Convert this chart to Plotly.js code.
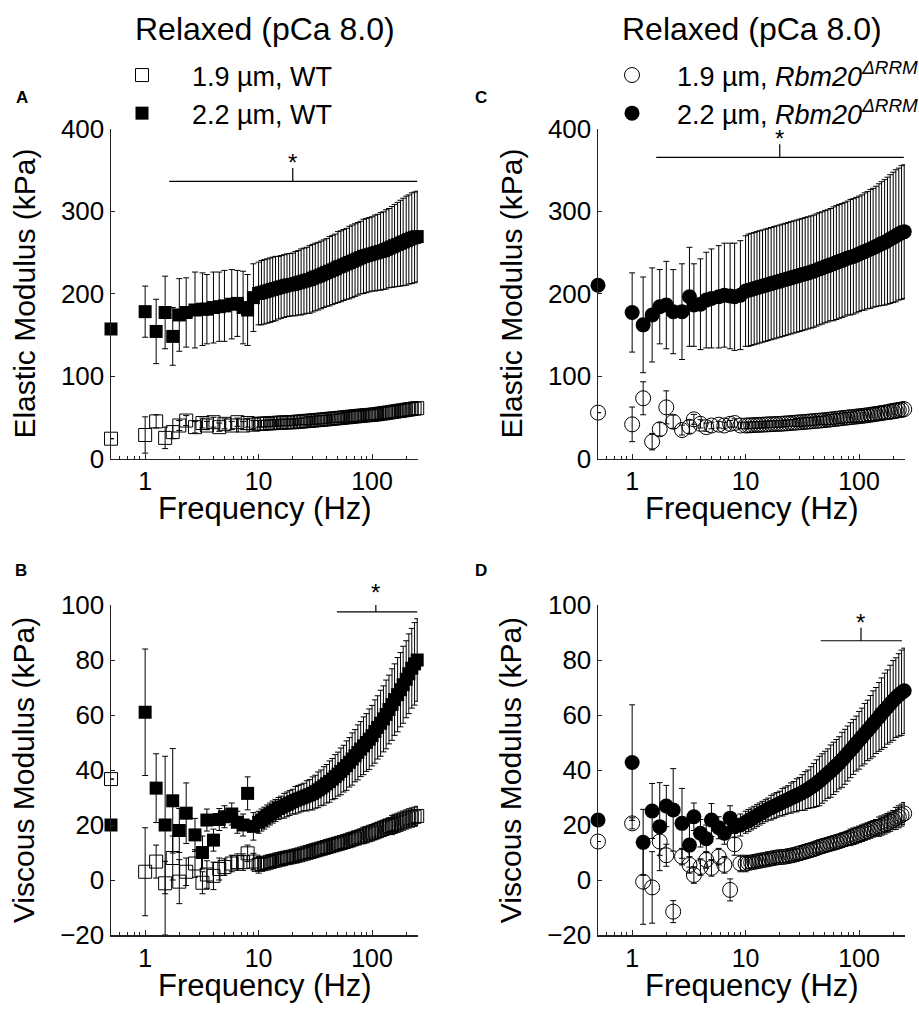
<!DOCTYPE html>
<html>
<head>
<meta charset="utf-8">
<script src="https://cdn.plot.ly/plotly-3.0.1.min.js"></script>
<style>html,body{margin:0;padding:0;background:#fff;overflow:hidden;}#chart{width:919px;height:1012px;}</style>
</head>
<body>
<div id="chart"></div>
<script>
// ---------- DATA ----------
const freq = [0.5, 1, 1.25, 1.5, 1.75, 2, 2.3, 2.75, 3.2, 3.5, 4, 4.5, 5, 5.8, 6.5, 7.3, 8, 9, 10,
  10.6, 11.2, 11.9, 12.6, 13.3, 14.1, 15, 15.8, 16.8, 17.8, 18.8, 20,
  21.1, 22.4, 23.7, 25.1, 26.6, 28.2, 29.9, 31.6, 33.5, 35.5, 37.6, 39.8,
  42.2, 44.7, 47.3, 50.1, 53.1, 56.2, 59.6, 63.1, 66.8, 70.8, 75, 79.4,
  84.1, 89.1, 94.4, 100, 106, 112, 119, 126, 133, 141, 150, 158, 168, 178, 188, 200, 211, 224, 237, 250];

// Panel A: elastic modulus, WT
const wt22_E = [157, 178, 154, 177, 148, 174, 177, 180, 181, 181, 183, 184, 185, 187, 188, 183, 180, 195, 200,
  201, 202, 203, 204, 205, 206, 207, 208, 209, 210, 210.5, 211,
  212, 213, 214, 215, 216, 217, 218.5, 220, 221, 222.5, 224, 225.5,
  227, 228.5, 230, 232, 233, 234.5, 236, 237.5, 239, 240.5, 242, 243.5,
  245, 246, 247, 248, 249, 250, 251, 252, 253.5, 255, 256.5, 258, 259.5, 261, 262.5, 264, 265.5, 267, 268, 269];
const wt22_E_sd = [0, 31, 39, 44, 35, 44, 42, 46, 44, 42, 43, 42, 43, 42, 40, 44, 43, 41, 38,
  39, 39, 39, 39, 39, 39, 38, 38, 38, 38, 38, 38,
  39, 39, 40, 40, 40, 41, 41, 41, 41, 41, 41, 41,
  42, 42, 42, 43, 43, 43, 43, 44, 44, 44, 44, 44,
  45, 45, 45, 45, 46, 46, 47, 47, 48, 48, 49, 50, 51, 52, 53, 54, 54, 55, 55, 55];
const wt19_E = [24, 28.5, 45, 25, 32, 40, 46, 38, 43, 40, 44, 38, 42, 40, 44, 40, 43, 41, 42,
  42.1, 42.3, 42.5, 42.7, 42.9, 43.1, 43.3, 43.5, 43.7, 43.8, 43.9, 44,
  44.3, 44.6, 44.9, 45.2, 45.5, 45.8, 46.1, 46.4, 46.7, 47, 47.3, 47.6,
  48, 48.3, 48.6, 49, 49.3, 49.7, 50, 50.4, 50.7, 51.1, 51.4, 51.8,
  52.1, 52.4, 52.7, 53, 53.4, 53.8, 54.3, 54.8, 55.3, 55.8, 56.4, 56.9, 57.4, 57.9, 58.4, 59, 59.5, 60, 60.5, 61];
const wt19_E_sd = [0, 22, 8, 13, 8, 6, 6, 7, 6, 5, 6, 5, 6, 5, 5, 5, 5, 5, 4,
  4, 4, 4, 4, 4, 4, 4, 4, 4, 4, 4, 4,
  4, 4, 4, 4, 5, 5, 5, 5, 5, 5, 5, 5,
  5, 5, 5, 5, 5, 6, 6, 6, 6, 6, 6, 6,
  6, 6, 6, 6, 6, 6, 7, 7, 7, 7, 7, 7, 7, 7, 8, 8, 8, 8, 8, 8];

// Panel C: elastic modulus, Rbm20 dRRM
const rbm22_E = [210, 177, 162, 174, 184, 186, 178, 178, 196, 186, 187, 192, 194, 196, 198, 197, 196, 198, 203,
  204, 205, 206, 207, 208, 209, 210, 211, 212, 213, 214, 215,
  216, 217, 218, 219, 220, 221, 222, 223, 224, 225, 226, 227,
  228.5, 230, 231, 232.5, 233.5, 235, 236, 237.5, 239, 240, 241.5, 243,
  244, 245, 246.5, 248, 249.5, 251, 252.5, 254, 255.5, 257, 259, 260.5, 262, 264, 266, 268, 270, 272, 274, 275];
const rbm22_E_sd = [0, 48, 58, 57, 45, 53, 51, 58, 60, 50, 55, 58, 60, 62, 63, 64, 65, 66, 67,
  68, 68, 68, 68, 68, 68, 68, 68, 68, 68, 68, 68,
  68, 68, 68, 68, 68, 68, 68, 68, 68, 68, 68, 68,
  68, 68, 68, 68, 68, 68, 69, 69, 69, 69, 69, 69,
  70, 70, 70, 70, 70, 71, 71, 72, 72, 73, 74, 75, 76, 77, 78, 79, 80, 80, 81, 81];
const rbm19_E = [55.6, 41.4, 73, 20.4, 35.4, 62, 44.6, 34.5, 38.5, 47.5, 42, 38, 40, 41, 40, 42, 43, 40, 40,
  40.1, 40.3, 40.5, 40.7, 40.8, 41, 41.2, 41.4, 41.6, 41.7, 41.9, 42,
  42.2, 42.5, 42.7, 43, 43.3, 43.6, 43.9, 44.1, 44.4, 44.7, 45, 45.3,
  45.6, 45.9, 46.2, 46.5, 46.9, 47.3, 47.7, 48.1, 48.5, 48.9, 49.3, 49.7,
  50.1, 50.5, 50.8, 51.2, 51.6, 52, 52.5, 53, 53.5, 54, 54.6, 55.1, 55.7, 56.2, 56.8, 57.4, 58, 58.6, 59.2, 59.8];
const rbm19_E_sd = [0, 21, 20, 10, 8, 20, 8, 6, 8, 6, 5, 5, 4, 4, 4, 4, 5, 4, 4,
  4, 4, 4, 4, 4, 4, 4, 4, 4, 4, 4, 4,
  4, 4, 4, 4, 4, 5, 5, 5, 5, 5, 5, 5,
  5, 5, 5, 6, 6, 6, 6, 6, 6, 6, 6, 6,
  6, 6, 7, 7, 7, 7, 7, 7, 8, 8, 8, 8, 8, 8, 9, 9, 9, 9, 9, 9];

// Panel B: viscous modulus, WT
const wt22_V = [20, 61, 33.4, 20, 28.8, 18, 24.3, 16.4, 10, 21.8, 14.5, 22, 23, 24, 21, 20, 31.5, 19.5, 21,
  21.8, 22.5, 23.3, 24, 24.7, 25.3, 26, 26.5, 27, 27.5, 28, 28.5,
  29, 29.4, 29.8, 30.2, 30.6, 31, 31.5, 32.1, 32.8, 33.5, 34.2, 35,
  35.8, 36.7, 37.6, 38.5, 39.5, 40.5, 41.6, 42.8, 44, 45.2, 46.4, 47.6,
  48.8, 50, 51.2, 52.5, 54, 55.5, 57, 58.6, 60.2, 62, 63.8, 65.6, 67.4, 69.2, 71, 73, 75, 77, 78.6, 80];
const wt22_V_sd = [0, 23, 12.5, 25, 19, 8, 11, 6, 6, 4, 4, 4, 4, 4, 4, 4, 6, 5, 4,
  4, 4, 4, 4, 4, 4, 4, 4, 4.5, 4.5, 4.5, 4.5,
  5, 5, 5, 5, 5.5, 5.5, 6, 6, 6.5, 6.5, 7, 7,
  7.5, 7.5, 8, 8, 8.5, 8.5, 9, 9, 9.5, 9.5, 10, 10,
  10.5, 10.5, 11, 11, 11.5, 11.5, 12, 12, 12.5, 12.5, 13, 13, 13.5, 13.5, 14, 14, 14.5, 14.5, 15, 15];
const wt19_V = [36.7, 3, 6.7, -1.2, 8, -0.6, 3, 6, -1, 2, 1.5, 4, 4.7, 6, 6.5, 6.5, 9.7, 6.7, 5.5,
  5.8, 6, 6.3, 6.6, 6.9, 7.1, 7.4, 7.6, 7.9, 8.1, 8.3, 8.5,
  8.8, 9, 9.3, 9.6, 9.9, 10.2, 10.5, 10.8, 11.1, 11.4, 11.7, 12,
  12.3, 12.6, 12.9, 13.2, 13.5, 13.8, 14.1, 14.4, 14.8, 15.1, 15.5, 15.8,
  16.2, 16.5, 16.9, 17.2, 17.6, 18, 18.4, 18.8, 19.2, 19.6, 20, 20.4, 20.8, 21.2, 21.6, 22, 22.4, 22.7, 23, 23.3];
const wt19_V_sd = [0, 16, 6, 8, 8, 8, 5, 5, 4, 5, 5, 4, 3, 3, 3, 3, 3, 3, 3,
  2, 2, 2, 2, 2, 2, 2, 2, 2, 2, 2, 2,
  2, 2, 2, 2, 2, 2, 2.5, 2.5, 2.5, 2.5, 2.5, 2.5,
  2.5, 2.5, 2.5, 2.5, 2.5, 2.5, 2.5, 2.5, 2.5, 2.5, 2.5, 2.5,
  3, 3, 3, 3, 3, 3, 3, 3, 3, 3, 3.5, 3.5, 3.5, 3.5, 3.5, 3.5, 3.5, 3.5, 3.5, 3.5];
const wt19_V_sdMinus = [0, 16, 6, 18.8, 8, 8, 5, 5, 4, 5, 5, 4, 3, 3, 3, 3, 3, 3, 3,
  2, 2, 2, 2, 2, 2, 2, 2, 2, 2, 2, 2,
  2, 2, 2, 2, 2, 2, 2.5, 2.5, 2.5, 2.5, 2.5, 2.5,
  2.5, 2.5, 2.5, 2.5, 2.5, 2.5, 2.5, 2.5, 2.5, 2.5, 2.5, 2.5,
  3, 3, 3, 3, 3, 3, 3, 3, 3, 3, 3.5, 3.5, 3.5, 3.5, 3.5, 3.5, 3.5, 3.5, 3.5, 3.5];

// Panel D: viscous modulus, Rbm20 dRRM
const rbm22_V = [21.8, 42.7, 13.7, 25.1, 19.4, 26.9, 25.5, 20.6, 12.7, 23, 17, 15, 21.8, 19, 17, 22.5, 19.4, 20, 21,
  21.6, 22.2, 22.8, 23.4, 24, 24.6, 25.2, 25.8, 26.3, 26.8, 27.3, 27.8,
  28.3, 28.8, 29.3, 29.8, 30.3, 30.8, 31.3, 31.8, 32.4, 33, 33.7, 34.4,
  35.2, 36, 36.9, 37.8, 38.7, 39.6, 40.6, 41.6, 42.6, 43.7, 44.8, 46,
  47.2, 48.4, 49.6, 50.8, 52, 53.2, 54.4, 55.6, 56.8, 58, 59.3, 60.5, 61.7, 62.9, 64.1, 65.3, 66.3, 67.3, 68.1, 68.8];
const rbm22_V_sd = [0, 21, 12, 10, 16, 7.5, 15, 12.7, 8, 5, 5, 5, 6, 4, 4, 4.5, 4, 4, 4,
  4, 4, 4, 4, 4, 4, 4, 4, 4.5, 4.5, 4.5, 4.5,
  5, 5, 5, 5.5, 5.5, 6, 6, 6.5, 7, 7, 7.5, 8,
  8.5, 9, 9, 9, 9, 9.5, 9.5, 9.5, 9.5, 10, 10, 10,
  10, 10, 10, 10.5, 10.5, 11, 11, 11.5, 12, 12, 12.5, 13, 13.5, 13.5, 14, 14.5, 14.5, 15, 15.5, 15.5];
const rbm19_V = [14, 20.6, -0.6, -2.7, 14, 9, -11.5, 8.5, 5.5, 1.8, 4.7, 7.3, 4.4, 8.5, 5.5, -3.6, 13, 6, 6,
  6.2, 6.4, 6.6, 6.8, 7, 7.2, 7.4, 7.6, 7.8, 8, 8.2, 8.3,
  8.4, 8.5, 8.7, 8.9, 9.1, 9.4, 9.7, 10, 10.3, 10.6, 10.9, 11.2,
  11.6, 12, 12.3, 12.6, 12.9, 13.2, 13.5, 13.8, 14.1, 14.5, 14.8, 15.2,
  15.5, 15.9, 16.2, 16.6, 17, 17.4, 17.8, 18.2, 18.6, 19, 19.4, 19.8, 20.2, 20.7, 21.2, 21.8, 22.4, 23, 23.6, 24.2];
const rbm19_V_sd = [0, 2, 15.5, 13, 5, 4, 4, 3, 3, 3, 3, 3, 3, 3, 3, 4, 4, 3, 3,
  2, 2, 2, 2, 2, 2, 2, 2, 2, 2, 2, 2,
  2, 2, 2, 2, 2, 2, 2.5, 2.5, 2.5, 2.5, 2.5, 2.5,
  2.5, 2.5, 2.5, 2.5, 2.5, 2.5, 2.5, 2.5, 2.5, 2.5, 2.5, 2.5,
  3, 3, 3, 3, 3, 3, 3, 3, 3, 3, 3.5, 3.5, 3.5, 3.5, 3.5, 3.5, 4, 4, 4, 4];

// Significance bars (A, C, B, D): start / end / centre frequency, level, tick height
const sigFrom  = [1.63, 1.63, 49, 46];
const sigTo    = [250, 248, 250, 239];
const sigMid   = [20, 20, 108, 104];
const sigLevel = [336, 365, 97.5, 87];
const sigTick  = [16, 16, 5, 4.7];

const legendLabels = ['1.9 µm, WT', '2.2 µm, WT',
  '1.9 µm, <i>Rbm20</i><sup><i>ΔRRM</i></sup>', '2.2 µm, <i>Rbm20</i><sup><i>ΔRRM</i></sup>'];
const yTicksE = [0, 100, 200, 300, 400];
const yTicksV = [-20, 0, 20, 40, 60, 80, 100];
const xTicks = [1, 10, 100];
const xMinor = [0.6, 0.7, 0.8, 0.9, 2, 3, 4, 5, 6, 7, 8, 9, 20, 30, 40, 50, 60, 70, 80, 90, 200];

// ---------- STYLE ----------
const FONT = 'Liberation Sans, Arial, sans-serif';
const W = 919, H = 1012;
const px = v => v / W;
const py = v => 1 - v / H;

function errObj(arr, minus) {
  const e = {type: 'data', array: arr, color: '#000', thickness: 1, width: 3, visible: true};
  if (minus) { e.symmetric = false; e.arrayminus = minus; }
  return e;
}
function trace(y, err, errMinus, xa, ya, symbol, size, name, legend, show, rank) {
  const open = symbol.indexOf('open') >= 0;
  return {
    type: 'scatter', mode: 'markers', x: freq, y: y, xaxis: xa, yaxis: ya,
    name: name, legend: legend, showlegend: show, legendrank: rank,
    cliponaxis: false,
    marker: {symbol: symbol, size: size, color: '#000',
      line: {color: '#000', width: open ? 1 : 0}},
    error_y: errObj(err, errMinus)
  };
}

const data = [
  trace(wt22_E, wt22_E_sd, null, 'x', 'y', 'square', 13, legendLabels[1], 'legend', true, 2),
  trace(wt19_E, wt19_E_sd, null, 'x', 'y', 'square-open', 13, legendLabels[0], 'legend', true, 1),
  trace(rbm22_E, rbm22_E_sd, null, 'x2', 'y2', 'circle', 15, legendLabels[3], 'legend2', true, 2),
  trace(rbm19_E, rbm19_E_sd, null, 'x2', 'y2', 'circle-open', 15, legendLabels[2], 'legend2', true, 1),
  trace(wt22_V, wt22_V_sd, null, 'x3', 'y3', 'square', 13, legendLabels[1], 'legend', false, 2),
  trace(wt19_V, wt19_V_sd, wt19_V_sdMinus, 'x3', 'y3', 'square-open', 13, legendLabels[0], 'legend', false, 1),
  trace(rbm22_V, rbm22_V_sd, null, 'x4', 'y4', 'circle', 15, legendLabels[3], 'legend2', false, 2),
  trace(rbm19_V, rbm19_V_sd, null, 'x4', 'y4', 'circle-open', 15, legendLabels[2], 'legend2', false, 1)
];

const xDomL = [px(111), px(418)];
const xDomR = [px(598), px(905)];
const yTopPx = [128.5, 458.5];
const yBotPx = [605, 935];
const yDomT = [py(yTopPx[1]), py(yTopPx[0])];
const yDomB = [py(yBotPx[1]), py(yBotPx[0])];

function xAxis(domain, anchor) {
  return {
    domain: domain, anchor: anchor, type: 'log',
    range: [Math.log10(0.5), 2.405],
    showline: true, linecolor: '#222', linewidth: 1.5,
    showgrid: false, zeroline: false, automargin: false,
    ticks: 'inside', ticklen: 5, tickwidth: 1, tickcolor: '#222',
    tickmode: 'array', tickvals: xTicks,
    tickfont: {family: FONT, size: 25, color: '#000'},
    minor: {tickmode: 'array', tickvals: xMinor, ticks: 'inside', ticklen: 3, tickwidth: 1, tickcolor: '#222', showgrid: false}
  };
}
function yAxis(domain, anchor, range, ticks, title) {
  return {
    domain: domain, anchor: anchor, range: range,
    showline: true, linecolor: '#222', linewidth: 1.5,
    showgrid: false, zeroline: false, automargin: false,
    ticks: 'inside', ticklen: 4, tickwidth: 1, tickcolor: '#222',
    tickmode: 'array', tickvals: ticks,
    tickfont: {family: FONT, size: 26, color: '#000'},
    title: {text: title, font: {family: FONT, size: 30, color: '#000'}, standoff: 16}
  };
}

const axisPairs = [['x', 'y'], ['x2', 'y2'], ['x3', 'y3'], ['x4', 'y4']];
const yRanges = [[0, 400], [0, 400], [-20, 100], [-20, 100]];
const yPix = [yTopPx, yTopPx, yBotPx, yBotPx];
const shapes = [];
const annotations = [];
for (let i = 0; i < 4; i++) {
  const [xa, ya] = axisPairs[i];
  const lm = {color: '#000', width: 1.2};
  // shapes on log axes take data values directly in Plotly v3
  shapes.push({type: 'line', xref: xa, yref: ya,
    x0: sigFrom[i], x1: sigTo[i], y0: sigLevel[i], y1: sigLevel[i], line: lm});
  shapes.push({type: 'line', xref: xa, yref: ya,
    x0: sigMid[i], x1: sigMid[i], y0: sigLevel[i], y1: sigLevel[i] + sigTick[i], line: lm});
  const pxPerUnit = (yPix[i][1] - yPix[i][0]) / (yRanges[i][1] - yRanges[i][0]);
  annotations.push({xref: xa, yref: ya, x: Math.log10(sigMid[i]), y: sigLevel[i],
    text: '*', showarrow: false, xanchor: 'center', yanchor: 'bottom',
    yshift: sigTick[i] * pxPerUnit - 10,
    font: {family: FONT, size: 24, color: '#000'}});
  // x-axis title, placed under the tick labels
  annotations.push({xref: xa + ' domain', yref: ya + ' domain', x: 0.5, y: 0,
    text: 'Frequency (Hz)', showarrow: false, xanchor: 'center', yanchor: 'middle', yshift: -50,
    font: {family: FONT, size: 31, color: '#000'}});
}
const titleFont = {family: FONT, size: 32, color: '#000'};
annotations.push({xref: 'paper', yref: 'paper', x: px(265), y: py(29), xanchor: 'center', yanchor: 'middle', text: 'Relaxed (pCa 8.0)', showarrow: false, font: titleFont});
annotations.push({xref: 'paper', yref: 'paper', x: px(752), y: py(29), xanchor: 'center', yanchor: 'middle', text: 'Relaxed (pCa 8.0)', showarrow: false, font: titleFont});
const letterFont = {family: FONT, size: 17, color: '#000'};
[['A', 22, 97], ['C', 481, 97], ['B', 21, 570], ['D', 481, 570]].forEach(([t, x, y]) => {
  annotations.push({xref: 'paper', yref: 'paper', x: px(x), y: py(y), xanchor: 'center', yanchor: 'middle', text: '<b>' + t + '</b>', showarrow: false, font: letterFont});
});

const legendBase = {
  font: {family: FONT, size: 27, color: '#000'},
  bgcolor: 'rgba(0,0,0,0)', borderwidth: 0,
  xanchor: 'left', yanchor: 'top', traceorder: 'normal', tracegroupgap: 0
};

const layout = {
  width: W, height: H, autosize: false,
  margin: {l: 0, r: 0, t: 0, b: 0, autoexpand: false},
  paper_bgcolor: '#fff', plot_bgcolor: '#fff',
  font: {family: FONT, color: '#000'},
  showlegend: true,
  legend: Object.assign({}, legendBase, {x: px(92), y: py(51), itemwidth: 90}),
  legend2: Object.assign({}, legendBase, {x: px(587), y: py(51), itemwidth: 80}),
  xaxis: xAxis(xDomL, 'y'),
  yaxis: yAxis(yDomT, 'x', yRanges[0], yTicksE, 'Elastic Modulus (kPa)'),
  xaxis2: xAxis(xDomR, 'y2'),
  yaxis2: yAxis(yDomT, 'x2', yRanges[1], yTicksE, 'Elastic Modulus (kPa)'),
  xaxis3: xAxis(xDomL, 'y3'),
  yaxis3: yAxis(yDomB, 'x3', yRanges[2], yTicksV, 'Viscous Modulus (kPa)'),
  xaxis4: xAxis(xDomR, 'y4'),
  yaxis4: yAxis(yDomB, 'x4', yRanges[3], yTicksV, 'Viscous Modulus (kPa)'),
  shapes: shapes,
  annotations: annotations
};

Plotly.newPlot('chart', data, layout, {displayModeBar: false, staticPlot: true});
</script>
</body>
</html>
